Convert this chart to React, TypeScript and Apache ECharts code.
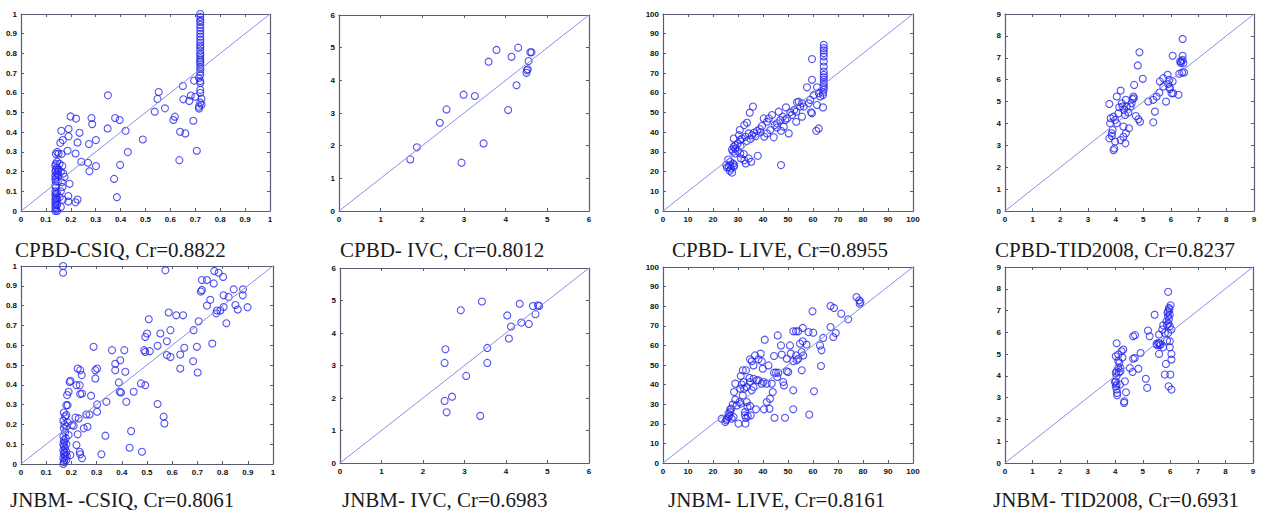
import React, { useEffect, useRef } from "react";
import * as echarts from "echarts";

type P = [number, number];

const titles = [
  "CPBD-CSIQ, Cr=0.8822",
  "CPBD- IVC, Cr=0.8012",
  "CPBD- LIVE, Cr=0.8955",
  "CPBD-TID2008, Cr=0.8237",
  "JNBM- -CSIQ, Cr=0.8061",
  "JNBM- IVC, Cr=0.6983",
  "JNBM- LIVE, Cr=0.8161",
  "JNBM- TID2008, Cr=0.6931",
];

const axisMax = [1, 6, 100, 9, 1, 6, 100, 9];
const axisStep = [0.1, 1, 10, 1, 0.1, 1, 10, 1];

const cpbdCsiq: P[] = [
  [0.72, 1.0], [0.72, 0.985], [0.72, 0.97], [0.72, 0.96], [0.72, 0.945], [0.72, 0.93], [0.72, 0.915], [0.72, 0.9],
  [0.72, 0.885], [0.72, 0.87], [0.72, 0.855], [0.72, 0.84], [0.72, 0.83], [0.72, 0.815], [0.72, 0.8], [0.72, 0.79],
  [0.72, 0.775], [0.72, 0.765], [0.72, 0.755], [0.72, 0.745], [0.72, 0.73], [0.72, 0.72], [0.72, 0.705], [0.72, 0.69],
  [0.715, 0.675], [0.72, 0.66], [0.72, 0.65], [0.72, 0.615], [0.72, 0.6], [0.725, 0.57], [0.72, 0.55], [0.725, 0.54],
  [0.715, 0.53], [0.715, 0.52],
  [0.695, 0.662], [0.706, 0.306], [0.692, 0.458], [0.682, 0.586], [0.7, 0.58], [0.652, 0.567], [0.676, 0.559],
  [0.65, 0.635], [0.639, 0.402], [0.66, 0.394], [0.636, 0.258], [0.618, 0.479], [0.612, 0.462], [0.553, 0.604],
  [0.548, 0.569], [0.578, 0.521], [0.537, 0.504], [0.489, 0.363], [0.429, 0.299], [0.42, 0.407], [0.396, 0.462],
  [0.378, 0.472], [0.398, 0.234], [0.385, 0.07], [0.374, 0.163], [0.349, 0.587], [0.348, 0.419], [0.301, 0.36],
  [0.301, 0.228], [0.283, 0.472], [0.286, 0.441], [0.273, 0.34], [0.269, 0.245], [0.275, 0.202], [0.235, 0.397],
  [0.227, 0.348], [0.242, 0.25], [0.221, 0.469], [0.199, 0.48], [0.191, 0.416], [0.191, 0.379], [0.219, 0.292],
  [0.187, 0.306], [0.195, 0.138], [0.19, 0.076], [0.19, 0.048], [0.227, 0.058], [0.219, 0.044], [0.162, 0.407],
  [0.168, 0.36], [0.158, 0.346], [0.163, 0.289], [0.151, 0.292], [0.175, 0.173], [0.166, 0.229], [0.164, 0.146],
  [0.166, 0.122], [0.168, 0.058], [0.17, 0.19], [0.16, 0.2], [0.155, 0.24], [0.16, 0.02], [0.155, 0.07], [0.16, 0.1],
  [0.15, 0.18], [0.15, 0.21],
  [0.138, 0.0], [0.14, 0.01], [0.138, 0.02], [0.14, 0.03], [0.138, 0.04], [0.14, 0.05], [0.138, 0.06], [0.14, 0.07],
  [0.138, 0.08], [0.14, 0.09], [0.138, 0.1], [0.14, 0.12], [0.138, 0.13], [0.14, 0.15], [0.138, 0.16], [0.14, 0.17],
  [0.138, 0.18], [0.145, 0.19], [0.138, 0.2], [0.14, 0.21], [0.145, 0.22], [0.138, 0.23], [0.14, 0.24], [0.145, 0.25],
  [0.14, 0.29], [0.145, 0.3], [0.145, 0.0], [0.145, 0.03], [0.145, 0.06], [0.145, 0.09], [0.148, 0.15], [0.148, 0.2],
];

const cpbdIvc: P[] = [
  [1.87, 1.95], [1.71, 1.58], [2.42, 2.7], [2.58, 3.11], [2.99, 3.56], [3.26, 3.52], [2.94, 1.48], [3.47, 2.07],
  [3.59, 4.57], [3.78, 4.93], [4.06, 3.09], [4.14, 4.72], [4.3, 5.0], [4.26, 3.85], [4.5, 4.23], [4.53, 4.34],
  [4.51, 4.31], [4.55, 4.59], [4.59, 4.86], [4.62, 4.86],
];

const cpbdLive: P[] = [
  [64.3, 84.4], [64.3, 82.7], [64.3, 81.5], [64.3, 80.1], [64.3, 78.4], [64.3, 75.9], [64.3, 73.3], [64.3, 70.8],
  [64.3, 69.1], [64.3, 67.9], [64.3, 66.6], [64.3, 65.2], [64.3, 64.0], [64.3, 62.8], [64.3, 61.5], [64.0, 60.1],
  [64.0, 58.9], [64.0, 52.6],
  [59.6, 77.1], [59.6, 66.6], [57.6, 62.8], [61.6, 62.8], [62.3, 59.8], [60.3, 58.9], [62.9, 58.1], [58.9, 56.4],
  [61.6, 53.8], [61.3, 40.7], [62.3, 41.9], [59.6, 49.6], [59.2, 50.1], [55.6, 47.9], [54.9, 53.0], [53.6, 55.2],
  [54.3, 55.5], [55.6, 54.7], [53.3, 50.4], [53.3, 45.3], [50.9, 50.1], [49.2, 52.6], [47.9, 47.9], [46.9, 46.2],
  [46.3, 50.4], [45.6, 44.5], [44.7, 43.6], [43.6, 48.7], [42.3, 47.0], [41.6, 45.3], [40.3, 47.0], [40.5, 37.7],
  [44.3, 37.4], [42.9, 41.1], [47.2, 40.7], [50.3, 39.4], [47.2, 23.3], [39.6, 43.1], [38.7, 41.6], [37.6, 40.6],
  [36.3, 39.7], [35.6, 38.5], [34.3, 39.4], [32.9, 37.7], [31.6, 36.8], [30.9, 36.0], [29.9, 34.3], [28.9, 33.4],
  [28.3, 32.6], [27.6, 31.2], [28.0, 30.1], [28.9, 29.2], [29.9, 30.6], [30.9, 29.2], [32.3, 28.9], [32.5, 43.6],
  [33.6, 44.8], [34.7, 49.9], [36.0, 53.0], [30.7, 41.1], [30.4, 38.5], [28.3, 36.8], [28.9, 31.7], [34.3, 26.7],
  [33.1, 24.1], [35.3, 25.0], [37.9, 28.0], [31.2, 26.7], [32.5, 25.8],
  [26.3, 22.4], [26.9, 23.3], [27.2, 21.6], [28.0, 24.1], [25.6, 22.1], [26.7, 20.4], [27.6, 19.5], [28.5, 23.3],
  [26.9, 25.0], [26.1, 26.1], [28.3, 22.4], [25.3, 23.3],
  [41.6, 39.4], [45.6, 42.4], [48.3, 42.8], [48.9, 46.2], [49.6, 47.0], [51.6, 48.7], [52.5, 51.3], [56.3, 53.0],
  [58.3, 54.7], [35.0, 36.5], [37.0, 38.0], [39.0, 40.0], [33.5, 35.5], [31.0, 33.0],
];

const cpbdTid: P[] = [
  [6.42, 7.86], [6.06, 7.09], [6.42, 7.09], [6.33, 6.83], [6.36, 6.76], [6.42, 6.91], [6.47, 6.33], [6.4, 6.33],
  [6.3, 6.27], [6.27, 5.31], [6.08, 5.38], [6.02, 5.38], [5.96, 5.57], [6.06, 5.92], [5.94, 5.99], [5.88, 6.22],
  [5.72, 6.07], [5.72, 5.69], [5.82, 5.0], [5.6, 5.92], [5.58, 5.41], [5.48, 5.23], [5.36, 5.08], [5.18, 5.0],
  [5.42, 4.54], [5.36, 4.05], [4.98, 6.04], [4.86, 7.25], [4.8, 6.65], [4.67, 5.76], [4.64, 5.23], [4.66, 5.15],
  [4.58, 4.92], [4.82, 4.19], [4.88, 4.08], [4.73, 4.34], [4.46, 4.5], [4.48, 3.78], [4.37, 3.55], [4.35, 3.09],
  [4.28, 3.86], [4.28, 3.39], [4.18, 3.24], [3.98, 3.17], [3.92, 2.78], [3.95, 2.86], [3.77, 3.32], [3.86, 3.55],
  [3.89, 3.7], [3.82, 4.24], [3.92, 4.31], [3.98, 4.16], [4.04, 4.01], [3.77, 4.89], [4.04, 5.23], [4.18, 5.5],
  [4.22, 4.92], [4.25, 4.77], [4.3, 4.62], [4.34, 4.39], [4.37, 5.08], [4.13, 4.74], [4.1, 4.46], [4.61, 5.11],
  [4.54, 4.77], [4.4, 4.77], [3.8, 4.01], [3.86, 3.43], [5.9, 5.8], [5.95, 5.65], [6.45, 6.75], [6.38, 6.85],
];

const jnbmCsiq: P[] = [
  [0.167, 1.0], [0.167, 0.966], [0.573, 0.978], [0.767, 0.975], [0.784, 0.966], [0.802, 0.945], [0.718, 0.929],
  [0.738, 0.929], [0.765, 0.912], [0.714, 0.871], [0.718, 0.879], [0.751, 0.829], [0.738, 0.8], [0.844, 0.882],
  [0.881, 0.882], [0.88, 0.852], [0.824, 0.844], [0.804, 0.852], [0.851, 0.803], [0.86, 0.78], [0.899, 0.792],
  [0.778, 0.775], [0.804, 0.793], [0.791, 0.775], [0.775, 0.761], [0.815, 0.711], [0.705, 0.721], [0.616, 0.751],
  [0.643, 0.751], [0.586, 0.765], [0.507, 0.731], [0.553, 0.659], [0.593, 0.676], [0.5, 0.659], [0.493, 0.642],
  [0.489, 0.575], [0.493, 0.566], [0.511, 0.57], [0.542, 0.597], [0.579, 0.62], [0.579, 0.55], [0.593, 0.541],
  [0.632, 0.553], [0.648, 0.587], [0.632, 0.482], [0.683, 0.519], [0.698, 0.592], [0.701, 0.462], [0.685, 0.676],
  [0.759, 0.608], [0.41, 0.575], [0.361, 0.575], [0.394, 0.524], [0.374, 0.506], [0.374, 0.474], [0.414, 0.466],
  [0.388, 0.412], [0.392, 0.365], [0.397, 0.361], [0.447, 0.365], [0.418, 0.314], [0.476, 0.407], [0.493, 0.398],
  [0.542, 0.303], [0.566, 0.239], [0.569, 0.205], [0.437, 0.166], [0.431, 0.082], [0.48, 0.062], [0.319, 0.049],
  [0.335, 0.143], [0.339, 0.314], [0.288, 0.592], [0.302, 0.482], [0.295, 0.474], [0.295, 0.432], [0.302, 0.301],
  [0.302, 0.264], [0.272, 0.25], [0.259, 0.25], [0.249, 0.18], [0.264, 0.188], [0.278, 0.345], [0.242, 0.356],
  [0.235, 0.353], [0.225, 0.482], [0.235, 0.474], [0.241, 0.449], [0.233, 0.398], [0.22, 0.398], [0.216, 0.234],
  [0.229, 0.23], [0.196, 0.42], [0.193, 0.414], [0.189, 0.365], [0.183, 0.348], [0.18, 0.297], [0.185, 0.297],
  [0.18, 0.247], [0.189, 0.146], [0.202, 0.197], [0.209, 0.193], [0.225, 0.15], [0.233, 0.062], [0.242, 0.029],
  [0.22, 0.096], [0.235, 0.049], [0.196, 0.045],
  [0.168, 0.0], [0.17, 0.01], [0.172, 0.02], [0.168, 0.03], [0.175, 0.04], [0.17, 0.05], [0.172, 0.06], [0.168, 0.07],
  [0.175, 0.08], [0.17, 0.09], [0.168, 0.1], [0.172, 0.11], [0.17, 0.12], [0.168, 0.14], [0.175, 0.16], [0.17, 0.18],
  [0.172, 0.2], [0.168, 0.22], [0.175, 0.24], [0.17, 0.26], [0.18, 0.02], [0.18, 0.06], [0.18, 0.1], [0.182, 0.04],
  [0.178, 0.13], [0.18, 0.19], [0.185, 0.21],
];

const jnbmIvc: P[] = [
  [2.91, 4.7], [3.42, 4.97], [4.33, 4.9], [4.03, 4.54], [4.12, 4.2], [4.37, 4.32], [4.55, 4.28], [4.65, 4.83],
  [4.8, 4.83], [4.77, 4.85], [4.71, 4.58], [4.07, 3.83], [3.55, 3.54], [3.55, 3.08], [2.54, 3.5], [2.52, 3.08],
  [3.04, 2.68], [2.7, 2.04], [2.52, 1.91], [2.57, 1.56], [3.38, 1.45],
];

const jnbmLive: P[] = [
  [77.4, 84.7], [78.5, 83.0], [79.0, 82.1], [78.7, 81.3], [67.0, 80.1], [68.4, 79.1], [59.8, 77.4], [71.3, 76.2],
  [74.1, 73.3], [67.0, 69.4], [69.1, 66.3], [68.1, 64.3], [60.1, 66.5], [58.2, 66.8], [55.9, 68.9], [53.2, 67.2],
  [52.1, 67.2], [54.1, 67.2], [45.9, 65.1], [40.7, 62.9], [64.1, 63.8], [62.8, 60.0], [63.4, 57.5], [63.2, 49.5],
  [60.4, 36.6], [58.5, 24.7], [52.1, 27.4], [48.8, 23.1], [44.6, 23.1], [52.1, 37.1], [55.5, 47.3], [57.4, 60.4],
  [55.9, 62.1], [54.8, 60.9], [55.5, 56.6], [56.1, 54.9], [54.1, 53.2], [53.5, 52.4], [52.1, 51.9], [53.2, 54.9],
  [50.8, 60.0], [51.1, 55.8], [49.5, 53.2], [49.5, 46.8], [50.1, 46.4], [48.1, 41.3], [48.4, 39.6], [47.2, 60.0],
  [47.5, 55.3], [45.2, 46.1], [46.1, 46.1], [45.7, 43.9], [44.4, 54.6], [44.4, 46.1], [43.5, 40.5], [43.9, 36.2],
  [42.8, 32.8], [42.6, 27.7], [40.4, 27.4], [41.5, 31.1], [42.2, 49.8], [39.9, 48.1], [39.5, 51.9], [39.1, 55.8],
  [38.2, 52.9], [36.8, 54.9], [35.5, 51.9], [34.8, 52.9], [36.2, 49.8], [37.5, 42.2], [38.2, 42.2], [39.5, 40.5],
  [40.2, 41.3], [41.5, 40.5], [36.2, 38.8], [35.5, 37.1], [36.2, 43.0], [34.8, 41.3], [33.5, 38.8], [33.5, 31.1],
  [32.4, 37.9], [32.2, 41.3], [31.9, 47.3], [33.2, 47.3], [34.6, 43.4], [31.1, 44.4], [30.9, 37.9], [31.5, 40.0],
  [31.9, 34.5], [28.9, 40.5], [28.4, 36.2], [30.6, 31.1], [31.1, 30.3], [29.5, 29.4], [27.9, 29.8], [27.3, 27.7],
  [28.9, 32.3], [33.8, 28.6], [34.8, 29.1], [37.2, 27.4], [32.8, 24.3], [33.2, 23.0], [33.9, 24.0], [33.0, 20.1],
  [30.2, 20.1], [35.1, 24.3], [26.9, 26.0], [26.2, 25.2], [26.6, 24.3], [26.2, 23.5], [25.5, 22.6], [25.3, 21.8],
  [24.9, 20.9], [27.5, 22.6], [28.2, 23.5], [23.5, 22.6], [26.9, 27.4], [32.8, 26.0],
];

const jnbmTid: P[] = [
  [5.92, 7.86], [6.01, 7.24], [5.95, 7.12], [5.92, 6.97], [5.98, 6.81], [5.92, 6.74], [5.86, 6.51], [5.43, 6.81],
  [5.88, 6.32], [5.98, 6.28], [6.04, 6.13], [5.74, 6.32], [5.71, 6.13], [5.8, 5.97], [5.92, 5.97], [5.59, 5.9],
  [5.88, 5.62], [5.98, 5.59], [5.5, 5.47], [5.56, 5.51], [5.62, 5.41], [5.52, 5.41], [5.74, 5.31], [5.98, 5.31],
  [5.59, 5.01], [6.04, 5.01], [6.04, 4.75], [5.84, 4.55], [5.8, 4.06], [6.0, 4.06], [5.94, 3.52], [6.04, 3.37],
  [5.19, 6.08], [5.25, 5.82], [5.11, 3.87], [5.16, 3.45], [4.92, 5.05], [4.72, 5.87], [4.65, 5.82], [4.71, 4.82],
  [4.65, 4.79], [4.84, 4.33], [4.53, 4.36], [4.63, 4.18], [4.29, 5.21], [4.23, 5.13], [4.26, 4.85], [4.19, 4.36],
  [4.11, 4.36], [4.19, 4.21], [4.35, 3.75], [4.39, 3.25], [4.33, 2.83], [4.32, 2.76], [4.05, 5.5], [4.02, 4.9],
  [4.11, 4.7], [4.15, 4.59], [4.05, 4.21], [4.02, 4.13], [4.05, 3.98], [4.02, 3.75], [4.05, 3.6], [4.02, 3.52],
  [4.05, 3.37], [4.07, 3.22], [4.07, 3.11], [4.13, 4.16], [4.17, 3.6], [3.99, 3.72], [4.11, 4.98], [5.95, 6.6],
  [5.9, 6.9], [5.97, 7.05], [5.93, 6.4], [5.65, 5.45], [5.6, 5.5],
];

const panelData: P[][] = [cpbdCsiq, cpbdIvc, cpbdLive, cpbdTid, jnbmCsiq, jnbmIvc, jnbmLive, jnbmTid];

// layout (page pixels)
const grids = [
  { left: 21, top: 14, width: 249, height: 197 },
  { left: 339, top: 15, width: 250, height: 196 },
  { left: 663, top: 14, width: 250, height: 197 },
  { left: 1005, top: 14, width: 249, height: 197 },
  { left: 21, top: 266, width: 252, height: 198 },
  { left: 340, top: 268, width: 249, height: 195 },
  { left: 663, top: 267, width: 250, height: 196 },
  { left: 1005, top: 267, width: 248, height: 196 },
];
const titlePos = [
  [15, 250], [340, 250], [672, 250], [995, 250],
  [10, 500], [342, 500], [668, 500], [993, 500],
];

const AXIS_COLOR = "#5c5c70";
const MARK_COLOR = "#2626ee";
const DIAG_COLOR = "#8c8ce8";

function fmt(v: number, step: number) {
  if (step < 1) return String(+v.toFixed(1));
  return String(Math.round(v));
}

function buildOption(i: number) {
  const max = axisMax[i];
  const step = axisStep[i];
  const mk = (pos: string, lbl: boolean) => ({
    type: "value",
    gridIndex: 0,
    min: 0,
    max,
    interval: step,
    position: pos,
    splitLine: { show: false },
    axisLine: { show: true, onZero: false, lineStyle: { color: AXIS_COLOR, width: 1.2 } },
    axisTick: { show: true, inside: true, length: 3, lineStyle: { color: AXIS_COLOR } },
    axisLabel: lbl
      ? {
          show: true,
          fontSize: 8,
          fontWeight: "bold",
          color: "#111",
          fontFamily: "Liberation Sans",
          margin: 4,
          formatter: (v: number) => fmt(v, step),
        }
      : { show: false },
  });
  return {
    animation: false,
    grid: [{ ...grids[i] }],
    xAxis: [mk("bottom", true), mk("top", false)],
    yAxis: [mk("left", true), mk("right", false)],
    series: [
      {
        type: "line",
        xAxisIndex: 0,
        yAxisIndex: 0,
        data: [[0, 0], [max, max]],
        showSymbol: false,
        symbol: "none",
        lineStyle: { color: DIAG_COLOR, width: 1 },
        silent: true,
      },
      {
        type: "scatter",
        xAxisIndex: 0,
        yAxisIndex: 0,
        data: panelData[i],
        symbol: "circle",
        symbolSize: 7,
        itemStyle: { color: "rgba(0,0,0,0)", borderColor: MARK_COLOR, borderWidth: 1.1 },
        silent: true,
      },
      { type: "scatter", xAxisIndex: 1, yAxisIndex: 1, data: [], silent: true },
    ],
    graphic: [
      {
        type: "text",
        x: titlePos[i][0],
        y: titlePos[i][1],
        style: {
          text: titles[i],
          font: '21px "Liberation Serif", "Times New Roman", serif',
          fill: "#1a1a1a",
          verticalAlign: "middle",
          align: "left",
        },
      },
    ],
  };
}

function Panel({ index }: { index: number }) {
  const ref = useRef<HTMLDivElement>(null);
  useEffect(() => {
    if (!ref.current) return;
    const chart = echarts.init(ref.current, null, { renderer: "svg" });
    chart.setOption(buildOption(index));
    return () => chart.dispose();
  }, [index]);
  return (
    <div
      ref={ref}
      style={{ position: "absolute", left: 0, top: 0, width: 1261, height: 514, pointerEvents: "none" }}
    />
  );
}

export default function App() {
  return (
    <div style={{ position: "fixed", left: 0, top: 0, width: 1261, height: 514, background: "#fff" }}>
      {titles.map((_, i) => (
        <Panel key={i} index={i} />
      ))}
    </div>
  );
}
